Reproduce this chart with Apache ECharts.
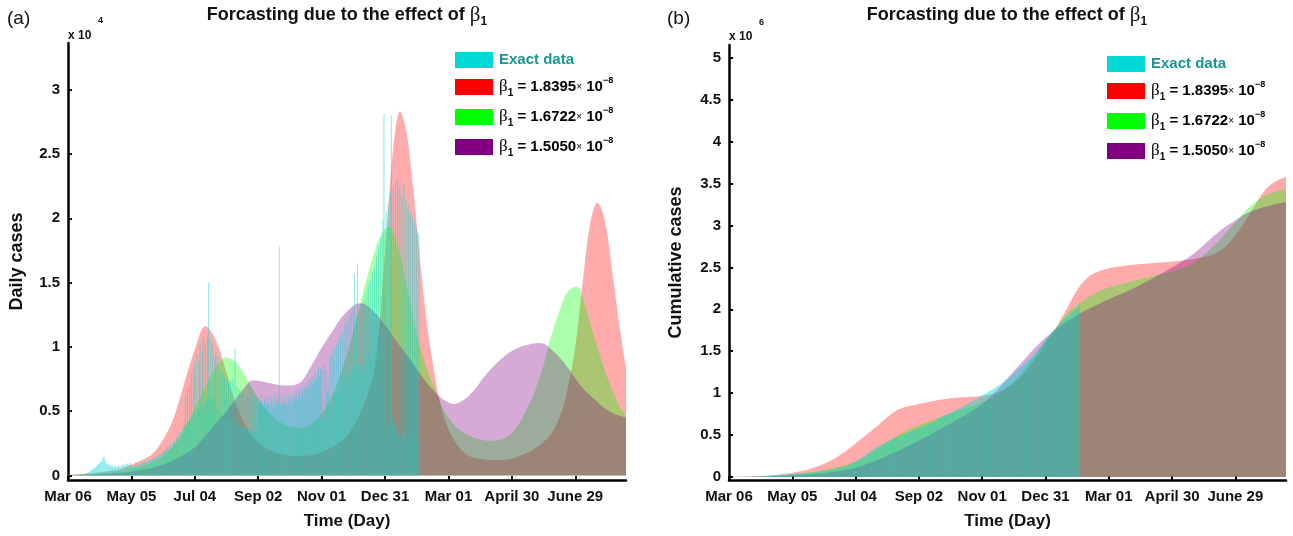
<!DOCTYPE html>
<html>
<head>
<meta charset="utf-8">
<script src="https://cdn.jsdelivr.net/npm/echarts@6/dist/echarts.min.js"></script>
<style>
  html, body { margin: 0; padding: 0; background: #ffffff; }
  #chart { width: 1293px; height: 536px; }
</style>
</head>
<body>
<div id="chart"></div>
<script>
// ---- axis ticks (days since Mar 06, 2020) ----
const tickDays = [0, 60, 120, 180, 240, 300, 360, 420, 480];
const tickLabels = ['Mar 06', 'May 05', 'Jul 04', 'Sep 02', 'Nov 01', 'Dec 31', 'Mar 01', 'April 30', 'June 29'];
const lastDay = 528;
const dailyTicks = [0, 5000, 10000, 15000, 20000, 25000, 30000];
const cumTicks = [0, 500000, 1000000, 1500000, 2000000, 2500000, 3000000, 3500000, 4000000, 4500000, 5000000];

// ---- reported daily cases, one value per day from day 0 ----
const dailyCases = [
  0, 0, 1, 2, 3, 6, 9, 12, 15, 20,
  25, 35, 40, 55, 70, 90, 110, 160, 200, 260,
  300, 350, 420, 480, 520, 600, 650, 700, 820, 900,
  950, 1050, 1100, 1350, 1500, 1250, 1000, 900, 850, 800,
  750, 700, 800, 650, 700, 750, 600, 700, 800, 650,
  700, 750, 800, 850, 700, 900, 950, 800, 850, 1000,
  770, 670, 700, 800, 840, 740, 880, 910, 840, 980,
  950, 1050, 1020, 1120, 1090, 980, 1190, 1160, 1260, 1230,
  1330, 1400, 1300, 1470, 1540, 1400, 1610, 1680, 1580, 1750,
  1820, 1960, 1890, 2100, 2170, 2030, 2310, 2380, 2240, 2520,
  2660, 2800, 2590, 3010, 3150, 2940, 3360, 3500, 3290, 3780,
  3900, 6200, 3800, 6800, 4200, 7000, 4500, 8000, 4800, 8300,
  8800, 4800, 9400, 5200, 9000, 10200, 5500, 9600, 10800, 5400,
  10400, 6000, 10900, 15000, 6200, 10600, 5800, 10300, 6000, 9200,
  9600, 5200, 9300, 5000, 8200, 4800, 8000, 4600, 7700, 4500,
  7500, 4400, 7200, 4300, 7400, 4200, 7600, 4400, 9900, 4100,
  7000, 4000, 6700, 3900, 6600, 3800, 6400, 3700, 6200, 3600,
  6300, 3600, 6100, 3500, 6500, 3500, 6200, 3400, 5900, 3500,
  6000, 5400, 5800, 6300, 5600, 5300, 5900, 6100, 5500, 5700,
  6200, 5400, 5800, 6000, 5300, 5700, 6400, 5600, 5900, 6100,
  17800, 5600, 6000, 5500, 5800, 6200, 5700, 5400, 6000, 6300,
  5800, 6100, 5600, 6400, 5900, 6200, 6600, 5800, 6300, 6700,
  6100, 6500, 6900, 6300, 6800, 7200, 6600, 7000, 7400, 6900,
  7300, 7700, 7100, 7600, 8000, 7400, 7900, 8400, 7800, 8300,
  8200, 4400, 8600, 4900, 8100, 6500, 7600, 6300, 9300, 5500,
  9400, 5600, 9900, 6100, 10100, 6500, 10500, 6300, 10900, 7000,
  11200, 7100, 11700, 7600, 12000, 7300, 12400, 8000, 12800, 8400,
  13000, 15700, 8300, 12400, 16500, 8500, 12600, 8700, 13400, 8000,
  13600, 8500, 14200, 9300, 14800, 9500, 15200, 9000, 15800, 9700,
  16200, 10000, 17000, 10500, 17800, 10300, 18500, 11000, 19900, 28100,
  14000, 20500, 4000, 21000, 3500, 22000, 28000, 4500, 22500, 4000,
  22800, 3500, 23000, 3000, 22500, 3000, 21800, 3500, 22600, 3000,
  21400, 2800, 21000, 3000, 20500, 2800, 20100, 3000, 19700, 2800,
  19200, 2800, 18800
];

// ---- model: daily cases for three values of beta_1 ----
const dailyHighDays = [0, 10, 20, 30, 40, 50, 60, 70, 80, 90, 100, 110, 120, 130, 140, 150, 161, 175, 190, 200, 219, 240, 260, 270, 280, 290, 298, 305, 310, 314, 320, 325, 330, 335, 340, 345, 352, 360, 370, 380, 390, 400, 410, 420, 430, 440, 450, 460, 470, 480, 487, 494, 501, 508, 516, 522, 528];
const dailyHigh = [50, 100, 150, 250, 350, 500, 850, 1200, 1700, 2800, 4500, 7200, 9800, 11600, 10500, 8000, 5100, 3000, 2000, 1700, 1500, 1800, 2800, 3800, 5500, 8200, 15200, 23000, 27000, 28300, 26800, 23500, 19500, 15200, 11500, 8800, 5700, 3600, 2200, 1500, 1300, 1200, 1200, 1300, 1600, 2000, 2600, 3600, 5800, 10000, 15000, 19500, 21200, 19800, 15200, 11500, 8400];

const dailyMidDays = [0, 20, 40, 60, 80, 90, 100, 110, 120, 130, 140, 150, 160, 170, 180, 190, 200, 210, 220, 230, 240, 250, 260, 270, 280, 290, 298, 304, 310, 320, 330, 340, 346, 352, 360, 370, 380, 390, 400, 410, 420, 430, 440, 450, 456, 463, 472, 481, 488, 497, 510, 520, 528];
const dailyMid = [50, 120, 250, 500, 1000, 1500, 2300, 3600, 5200, 6900, 8400, 9200, 8700, 7400, 6000, 4900, 4200, 3800, 3700, 4000, 4800, 6200, 8400, 11200, 14500, 17400, 19000, 19300, 18400, 15000, 11000, 8200, 7000, 5700, 4500, 3600, 3100, 2800, 2700, 2800, 3300, 4500, 6200, 8600, 10500, 12300, 14200, 14700, 13600, 11000, 7700, 5700, 4600];

const dailyLowDays = [0, 20, 40, 60, 80, 100, 120, 135, 150, 165, 175, 190, 205, 219, 230, 239, 250, 260, 270, 276, 285, 300, 312, 324, 335, 346, 355, 365, 375, 384, 395, 409, 425, 447, 460, 472, 485, 497, 510, 520, 528];
const dailyLow = [30, 80, 150, 300, 600, 1200, 2200, 3600, 5000, 6600, 7400, 7200, 7000, 7200, 8500, 9800, 11200, 12400, 13200, 13400, 13100, 11700, 10300, 9000, 7700, 6600, 5900, 5560, 5900, 6600, 7800, 9000, 9900, 10300, 9600, 8500, 7000, 6000, 5100, 4700, 4500];

// ---- model: cumulative cases for three values of beta_1 ----
const cumDays = [0, 30, 60, 80, 100, 120, 140, 160, 180, 200, 220, 240, 250, 260, 270, 280, 290, 300, 310, 320, 330, 340, 350, 360, 380, 400, 420, 440, 460, 470, 480, 490, 500, 510, 520, 528];
const cumHigh = [0, 8000, 50000, 110000, 220000, 400000, 600000, 800000, 870000, 920000, 950000, 965000, 990000, 1040000, 1120000, 1240000, 1400000, 1590000, 1780000, 2000000, 2230000, 2380000, 2450000, 2490000, 2530000, 2550000, 2570000, 2600000, 2660000, 2740000, 2880000, 3070000, 3270000, 3450000, 3540000, 3580000];
const cumMid = [0, 6000, 30000, 60000, 110000, 180000, 330000, 500000, 620000, 710000, 800000, 890000, 950000, 1030000, 1140000, 1280000, 1450000, 1630000, 1780000, 1940000, 2050000, 2140000, 2210000, 2260000, 2330000, 2390000, 2450000, 2550000, 2760000, 2900000, 3040000, 3180000, 3290000, 3370000, 3410000, 3440000];
const cumLow = [0, 4000, 20000, 35000, 60000, 110000, 200000, 310000, 430000, 570000, 710000, 870000, 980000, 1120000, 1260000, 1400000, 1540000, 1660000, 1760000, 1850000, 1930000, 2000000, 2060000, 2120000, 2230000, 2360000, 2500000, 2660000, 2880000, 2980000, 3060000, 3140000, 3190000, 3230000, 3260000, 3280000];

// ---- names and colours ----
const NAME_EXACT = 'Exact data';
const NAME_HIGH = 'beta1 = 1.8395e-8';
const NAME_MID = 'beta1 = 1.6722e-8';
const NAME_LOW = 'beta1 = 1.5050e-8';
const legendText = {};
legendText[NAME_EXACT] = '{e|Exact data}';
legendText[NAME_HIGH] = '{g|β}{s|1}{n| = 1.8395}{x|×}{n| 10}{p|−8}';
legendText[NAME_MID] = '{g|β}{s|1}{n| = 1.6722}{x|×}{n| 10}{p|−8}';
legendText[NAME_LOW] = '{g|β}{s|1}{n| = 1.5050}{x|×}{n| 10}{p|−8}';
const C_EXACT = '#00d8d8';
const C_HIGH = '#ff0000';
const C_MID = '#00ff00';
const C_LOW = '#800080';
const AREA_ALPHA = 0.33;

const FONT = 'Arial, "Liberation Sans", Helvetica, sans-serif';
const SERIF = '"Liberation Serif", "Times New Roman", serif';

// running total of the reported daily cases
const exactDaily = dailyCases.map((v, i) => [i, v]);
let total = 0;
const exactCum = dailyCases.map((v, i) => { total += v; return [i, total]; });
const pairs = (days, vals) => days.map((d, i) => [d, vals[i]]);

function xAxis(gridIndex) {
  return {
    type: 'value', gridIndex: gridIndex, min: 0, max: lastDay,
    axisLine: { show: true, onZero: false, lineStyle: { color: '#000', width: 2.5 } },
    axisTick: { show: true, inside: true, length: 4, customValues: tickDays, lineStyle: { color: '#000', width: 2 } },
    axisLabel: {
      customValues: tickDays, margin: 9, color: '#111', fontFamily: FONT, fontWeight: 'bold', fontSize: 15,
      formatter: v => tickLabels[tickDays.indexOf(v)] || ''
    },
    splitLine: { show: false },
    name: 'Time (Day)', nameLocation: 'middle', nameGap: 33,
    nameTextStyle: { color: '#111', fontFamily: FONT, fontWeight: 'bold', fontSize: 17 }
  };
}
function yAxis(gridIndex, min, max, ticks, scale, title, gap) {
  return {
    type: 'value', gridIndex: gridIndex, min: min, max: max,
    axisLine: { show: true, lineStyle: { color: '#000', width: 2.5 } },
    axisTick: { show: true, inside: true, length: 4, customValues: ticks, lineStyle: { color: '#000', width: 2 } },
    axisLabel: {
      customValues: ticks, margin: 8, color: '#111', fontFamily: FONT, fontWeight: 'bold', fontSize: 15,
      formatter: v => String(Math.round(v / scale * 10) / 10)
    },
    splitLine: { show: false },
    name: title, nameLocation: 'middle', nameGap: gap,
    nameTextStyle: { color: '#111', fontFamily: FONT, fontWeight: 'bold', fontSize: 18 }
  };
}
function area(name, color, xi, data) {
  return {
    type: 'line', name: name, xAxisIndex: xi, yAxisIndex: xi, data: data,
    smooth: 0.35, showSymbol: false, symbol: 'none', silent: true,
    lineStyle: { width: 0, color: color }, itemStyle: { color: color },
    areaStyle: { color: color, opacity: AREA_ALPHA }, z: 2
  };
}
function bars(xi, data) {
  return {
    type: 'bar', name: NAME_EXACT, xAxisIndex: xi, yAxisIndex: xi, data: data,
    barWidth: 1.1, silent: true, itemStyle: { color: C_EXACT, opacity: 0.45 }, z: 3
  };
}
const legendRich = {
  e: { fontFamily: FONT, fontWeight: 'bold', fontSize: 15, color: '#1a9494', lineHeight: 18 },
  g: { fontFamily: SERIF, fontSize: 17, color: '#000', lineHeight: 22 },
  s: { fontFamily: FONT, fontWeight: 'bold', fontSize: 10, color: '#000', lineHeight: 10, verticalAlign: 'bottom' },
  n: { fontFamily: FONT, fontWeight: 'bold', fontSize: 15, color: '#000', lineHeight: 22 },
  x: { fontFamily: FONT, fontSize: 10, color: '#000', lineHeight: 22 },
  p: { fontFamily: FONT, fontWeight: 'bold', fontSize: 9, color: '#000', lineHeight: 10, verticalAlign: 'top' }
};
function legend(left, top) {
  return {
    left: left, top: top, orient: 'vertical', icon: 'rect', itemWidth: 38, itemHeight: 16, itemGap: 8,
    selectedMode: false, padding: 0,
    formatter: name => legendText[name],
    textStyle: { rich: legendRich, padding: [0, 0, 0, 1] },
    data: [
      { name: NAME_EXACT, itemStyle: { color: C_EXACT, opacity: 1, borderWidth: 0 } },
      { name: NAME_HIGH, itemStyle: { color: C_HIGH, opacity: 1, borderWidth: 0 } },
      { name: NAME_MID, itemStyle: { color: C_MID, opacity: 1, borderWidth: 0 } },
      { name: NAME_LOW, itemStyle: { color: C_LOW, opacity: 1, borderWidth: 0 } }
    ]
  };
}
const titleRich = {
  t: { fontFamily: FONT, fontWeight: 'bold', fontSize: 18, fill: '#111', lineHeight: 26 },
  g: { fontFamily: SERIF, fontSize: 21, fill: '#111', lineHeight: 26 },
  s: { fontFamily: FONT, fontWeight: 'bold', fontSize: 12, fill: '#111', lineHeight: 12, verticalAlign: 'bottom' }
};
function textEl(x, y, text, font, align) {
  return { type: 'text', x: x, y: y, silent: true,
    style: { text: text, font: font, fill: '#111', align: align || 'left', verticalAlign: 'middle' } };
}
function titleEl(x) {
  return { type: 'text', x: x, y: 15, silent: true,
    style: { text: '{t|Forcasting due to the effect of }{g|β}{s|1}', rich: titleRich, align: 'center', verticalAlign: 'middle' } };
}

const chart = echarts.init(document.getElementById('chart'));
chart.setOption({
  animation: false,
  backgroundColor: '#ffffff',
  grid: [
    { left: 68, right: 667, top: 43, bottom: 56, containLabel: false },
    { left: 729, right: 7, top: 45, bottom: 56, containLabel: false }
  ],
  xAxis: [xAxis(0), xAxis(1)],
  yAxis: [
    yAxis(0, -350, 33630, dailyTicks, 1e4, 'Daily cases', 42),
    yAxis(1, -37000, 5154000, cumTicks, 1e6, 'Cumulative cases', 44)
  ],
  legend: [legend(455, 52), legend(1107, 56)],
  graphic: [
    textEl(7, 19, '(a)', '19px ' + FONT),
    textEl(667, 19, '(b)', '19px ' + FONT),
    textEl(68, 36, 'x 10', 'bold 12px ' + FONT),
    textEl(98, 21, '4', 'bold 9px ' + FONT),
    textEl(729, 37, 'x 10', 'bold 12px ' + FONT),
    textEl(759, 23, '6', 'bold 9px ' + FONT),
    titleEl(347),
    titleEl(1007)
  ],
  series: [
    area(NAME_HIGH, C_HIGH, 0, pairs(dailyHighDays, dailyHigh)),
    area(NAME_MID, C_MID, 0, pairs(dailyMidDays, dailyMid)),
    area(NAME_LOW, C_LOW, 0, pairs(dailyLowDays, dailyLow)),
    bars(0, exactDaily),
    area(NAME_HIGH, C_HIGH, 1, pairs(cumDays, cumHigh)),
    area(NAME_MID, C_MID, 1, pairs(cumDays, cumMid)),
    area(NAME_LOW, C_LOW, 1, pairs(cumDays, cumLow)),
    bars(1, exactCum)
  ]
});
</script>
</body>
</html>
